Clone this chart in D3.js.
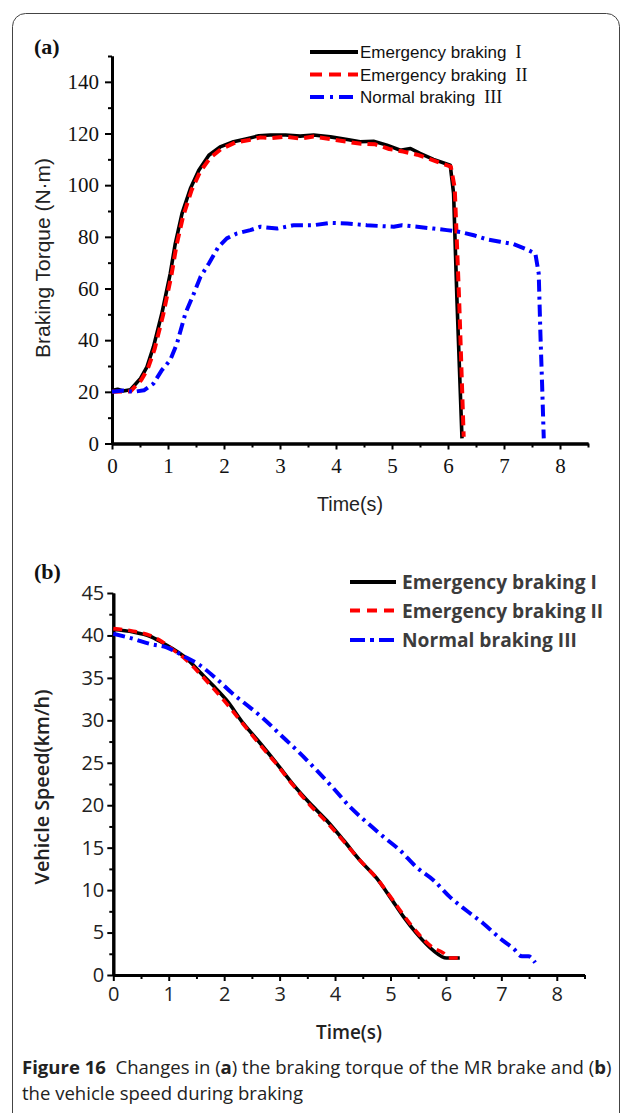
<!DOCTYPE html>
<html><head><meta charset="utf-8">
<script src="https://cdn.jsdelivr.net/npm/d3@7"></script>
<style>body{margin:0;background:#fff}</style>
</head><body>
<svg id="c" width="627" height="1113"></svg>
<script>
// ---------------- data ----------------
const timeTicks = [0,1,2,3,4,5,6,7,8];
const timeMinor = [0.5,1.5,2.5,3.5,4.5,5.5,6.5,7.5,8.5];
const torqueTicks = [0,20,40,60,80,100,120,140];
const torqueMinor = [10,30,50,70,90,110,130,150];
const speedTicks = [0,5,10,15,20,25,30,35,40,45];
const speedMinor = [2.5,7.5,12.5,17.5,22.5,27.5,32.5,37.5,42.5];

const legendA = ["Emergency braking", "Emergency braking", "Normal braking"];
const legendNumA = ["I", "II", "III"];
const legendB = ["Emergency braking I", "Emergency braking II", "Normal braking III"];

// (a) braking torque (N·m)
const torqueT1 = [0,0.1,0.2,0.33,0.51,0.625,0.74,0.89,1.04,1.13,1.25,1.40,1.55,1.73,1.93,2.17,2.41,2.62,2.83,3.1,3.36,3.6,3.9,4.2,4.43,4.67,4.91,5.15,5.33,5.5,5.74,6.04,6.1,6.16,6.25];
const torqueV1 = [20.5,21,20.3,20.8,25.2,29.7,37.4,50.3,65.8,77.4,89,98.7,105.8,111.6,114.8,116.8,118,119.1,119.4,119.4,119,119.4,118.7,117.7,116.8,117,115.5,113.5,114.2,112.3,110,107.7,96.8,55.5,2];
const torqueT2 = [0,0.33,0.52,0.64,0.76,0.91,1.06,1.15,1.27,1.42,1.57,1.75,1.95,2.2,2.45,2.65,2.85,3.1,3.36,3.6,3.9,4.2,4.45,4.7,4.95,5.2,5.45,5.75,6.05,6.12,6.2,6.28];
const torqueV2 = [20,20.2,24.5,29,36.5,49.5,65,76.5,88,98,105,110.5,114,116.5,117.5,118.5,118.2,118.8,118,118.8,117.8,116.8,116,115.8,114,113,111.8,109.5,107.2,99,55,2.6];
const torqueT3 = [0,0.2,0.39,0.57,0.74,0.89,1.04,1.16,1.31,1.46,1.58,1.73,1.9,2.05,2.23,2.47,2.65,2.95,3.24,3.6,3.9,4.2,4.55,4.85,5.03,5.18,5.45,5.74,5.98,6.22,6.46,6.7,6.93,7.17,7.41,7.56,7.62,7.65,7.68,7.71];
const torqueV3 = [20,20.5,20,20.6,23.2,28.4,32.3,38.7,50.3,58,64.5,69.7,76.1,79.4,81.3,82.6,83.9,83.2,84.5,84.5,85.4,85.2,84.5,84.1,83.9,84.5,83.9,83.2,82.6,81.9,80.6,79,78.1,77.2,75.1,73.5,65.8,42.6,23.2,2];

// (b) vehicle speed (km/h)
const speedT1 = [0,0.36,0.66,0.87,1.08,1.32,1.56,1.8,2.04,2.35,2.65,2.95,3.25,3.55,3.85,4.15,4.45,4.75,4.99,5.23,5.47,5.77,6.01,6.25];
const speedV1 = [40.7,40.4,39.9,39.2,38.4,37.3,35.7,34.1,32.4,29.6,27.3,24.9,22.4,20.2,18.2,15.9,13.5,11.4,9.2,6.9,4.9,2.9,2.0,2.0];
const speedT2 = [0,0.36,0.66,0.87,1.08,1.32,1.56,1.8,2.04,2.35,2.65,2.95,3.25,3.55,3.85,4.15,4.45,4.75,4.99,5.23,5.47,5.77,5.95,6.05,6.28];
const speedV2 = [40.8,40.5,40.0,39.3,38.3,37.1,35.5,33.8,32.0,29.5,27.1,24.8,22.3,20.0,18.0,15.8,13.5,11.4,9.3,7.1,5.1,3.2,2.6,2.0,2.0];
const speedT3 = [0,0.36,0.66,0.96,1.26,1.56,1.86,2.16,2.41,2.71,3.0,3.37,3.67,3.97,4.27,4.57,4.87,5.17,5.47,5.77,6.07,6.37,6.67,6.98,7.22,7.37,7.49,7.61];
const speedV3 = [40.2,39.6,39.0,38.6,37.6,36.5,34.9,33.1,31.8,30.2,28.4,26.1,24.1,22.0,19.8,18.0,16.3,14.7,12.7,11.2,9.2,7.6,6.1,4.3,3.1,2.2,2.2,1.45];

// ---------------- drawing ----------------
const svg = d3.select("#c");
function fit(sel, w){
  const fs = parseFloat(sel.attr("font-size"));
  const L = sel.node().getComputedTextLength();
  sel.attr("font-size", (fs*w/L).toFixed(2));
  return fs*w/L;
}

svg.append("rect").attr("x",12.5).attr("y",13.5).attr("width",607).attr("height",1114)
  .attr("rx",13).attr("fill","none").attr("stroke","#444").attr("stroke-width",1);

const styles = [
  {color:"#000", dash:null, w:3.6},
  {color:"#ff0000", dash:"10,6", w:4},
  {color:"#0000ff", dash:"12,5,3,5", w:4}
];

// ===== panel (a) =====
const xa = d3.scaleLinear().domain([0,8.5]).range([112,588]);
const ya = d3.scaleLinear().domain([0,150]).range([443.5,56]);
const serif = "'Liberation Serif','Times New Roman',serif";
const sans = "'Liberation Sans',Arial,sans-serif";

function styleAxis(g, w){
  g.select(".domain").attr("stroke","#000").attr("stroke-width",w);
  g.selectAll(".tick line").attr("stroke","#000").attr("stroke-width",2);
}
let g;
g = svg.append("g").attr("transform","translate(0,443.5)")
  .call(d3.axisBottom(xa).tickValues(timeMinor).tickSize(4).tickFormat("").tickSizeOuter(0));
styleAxis(g,3);
g = svg.append("g").attr("transform","translate(0,443.5)")
  .call(d3.axisBottom(xa).tickValues(timeTicks).tickSize(6).tickPadding(9).tickSizeOuter(0));
styleAxis(g,3);
g.selectAll("text").attr("font-family",serif).attr("font-size",21).attr("fill","#111");
g = svg.append("g").attr("transform","translate(112,0)")
  .call(d3.axisLeft(ya).tickValues(torqueMinor).tickSize(4).tickFormat("").tickSizeOuter(0));
styleAxis(g,3);
g = svg.append("g").attr("transform","translate(112,0)")
  .call(d3.axisLeft(ya).tickValues(torqueTicks).tickSize(7).tickPadding(6).tickSizeOuter(0));
styleAxis(g,3);
g.selectAll("text").attr("font-family",serif).attr("font-size",21).attr("fill","#111");

const lineA = d3.line().x(d=>xa(d[0])).y(d=>ya(d[1]));
const seriesA = [d3.zip(torqueT1,torqueV1), d3.zip(torqueT2,torqueV2), d3.zip(torqueT3,torqueV3)];
seriesA.forEach((s,i)=>{
  svg.append("path").attr("d",lineA(s)).attr("fill","none")
    .attr("stroke",styles[i].color).attr("stroke-width",styles[i].w)
    .attr("stroke-dasharray",styles[i].dash).attr("stroke-linejoin","round");
});

svg.append("text").attr("x",34).attr("y",54).attr("font-family",serif).attr("font-weight","bold")
  .attr("font-size",22).attr("fill","#111").text("(a)");
let t = svg.append("text").attr("transform","translate(50,258) rotate(-90)")
  .attr("text-anchor","middle").attr("font-family",sans).attr("font-size",18).attr("fill","#222")
  .text("Braking Torque (N·m)");
fit(t,200);
t = svg.append("text").attr("x",350).attr("y",511).attr("text-anchor","middle")
  .attr("font-family",sans).attr("font-size",19).attr("fill","#222").text("Time(s)");
fit(t,66);

// legend (a)
const legA_y = [52,74.5,97];
const legDashA = [null,"12,7","14,6,3,6"];
legendA.forEach((name,i)=>{
  svg.append("line").attr("x1",310).attr("x2",358).attr("y1",legA_y[i]).attr("y2",legA_y[i])
    .attr("stroke",styles[i].color).attr("stroke-width",4).attr("stroke-dasharray",legDashA[i]);
  const tt = svg.append("text").attr("x",360).attr("y",legA_y[i]+6).attr("font-family",sans)
    .attr("font-size",17).attr("fill","#111").text(name);
  const L = tt.node().getComputedTextLength();
  svg.append("text").attr("x",360+L+9).attr("y",legA_y[i]+6).attr("font-family",serif)
    .attr("font-size",18).attr("fill","#111").text(legendNumA[i]);
});

// ===== panel (b) =====
const xb = d3.scaleLinear().domain([0,8.5]).range([113.3,584.5]);
const yb = d3.scaleLinear().domain([0,45]).range([975,593]);
const sansB = "'Open Sans','Noto Sans',sans-serif";

g = svg.append("g").attr("transform","translate(0,975)")
  .call(d3.axisBottom(xb).tickValues(timeMinor).tickSize(4).tickFormat("").tickSizeOuter(0));
styleAxis(g,3);
g = svg.append("g").attr("transform","translate(0,975)")
  .call(d3.axisBottom(xb).tickValues(timeTicks).tickSize(6).tickPadding(6).tickSizeOuter(0));
styleAxis(g,3);
g.selectAll("text").attr("font-family",sansB).attr("font-size",20).attr("fill","#222");
g = svg.append("g").attr("transform","translate(113.3,0)")
  .call(d3.axisLeft(yb).tickValues(speedMinor).tickSize(4).tickFormat("").tickSizeOuter(0));
styleAxis(g,3);
g = svg.append("g").attr("transform","translate(113.3,0)")
  .call(d3.axisLeft(yb).tickValues(speedTicks).tickSize(6).tickPadding(3).tickSizeOuter(0));
styleAxis(g,3);
g.selectAll("text").attr("font-family",sansB).attr("font-size",20).attr("fill","#222");

const lineB = d3.line().x(d=>xb(d[0])).y(d=>yb(d[1])).curve(d3.curveMonotoneX);
const seriesB = [d3.zip(speedT1,speedV1), d3.zip(speedT2,speedV2), d3.zip(speedT3,speedV3)];
const stylesB = [
  {color:"#000", dash:null, w:3.6},
  {color:"#ff0000", dash:"9,6", w:3.6},
  {color:"#0000ff", dash:"12,5,3,5", w:4}
];
seriesB.forEach((s,i)=>{
  svg.append("path").attr("d",lineB(s)).attr("fill","none")
    .attr("stroke",stylesB[i].color).attr("stroke-width",stylesB[i].w)
    .attr("stroke-dasharray",stylesB[i].dash).attr("stroke-linejoin","round");
});

svg.append("text").attr("x",34).attr("y",579).attr("font-family",serif).attr("font-weight","bold")
  .attr("font-size",22).attr("fill","#111").text("(b)");
t = svg.append("text").attr("transform","translate(49,787) rotate(-90)")
  .attr("text-anchor","middle").attr("font-family",sansB).attr("font-weight",600)
  .attr("font-size",18).attr("fill","#222").text("Vehicle Speed(km/h)");
fit(t,195);
t = svg.append("text").attr("x",349).attr("y",1039).attr("text-anchor","middle")
  .attr("font-family",sansB).attr("font-weight",600).attr("font-size",19).attr("fill","#222").text("Time(s)");
fit(t,66);

// legend (b)
const legB_y = [582,610.5,640];
const legDashB = [null,"10,7","15,5,4,5"];
let fsB = null;
legendB.forEach((name,i)=>{
  svg.append("line").attr("x1",350).attr("x2",396).attr("y1",legB_y[i]).attr("y2",legB_y[i])
    .attr("stroke",stylesB[i].color).attr("stroke-width",4).attr("stroke-dasharray",legDashB[i]);
  const tt = svg.append("text").attr("x",402).attr("y",legB_y[i]+7).attr("font-family",sansB)
    .attr("font-weight","bold").attr("font-size",fsB||19).attr("fill","#3c3c3c").text(name);
  if(i===0) fsB = fit(tt,195);
});

// caption
const cap = svg.append("text").attr("x",22).attr("y",1074).attr("font-family",sansB)
  .attr("font-size",16).attr("fill","#222");
cap.append("tspan").attr("font-weight","bold").text("Figure 16");
cap.append("tspan").text("\u00a0\u00a0Changes in (");
cap.append("tspan").attr("font-weight","bold").text("a");
cap.append("tspan").text(") the braking torque of the MR brake and (");
cap.append("tspan").attr("font-weight","bold").text("b");
cap.append("tspan").text(")");
const fsC = fit(cap,590);
svg.append("text").attr("x",22).attr("y",1100).attr("font-family",sansB)
  .attr("font-size",fsC).attr("fill","#222").text("the vehicle speed during braking");
</script>
</body></html>
